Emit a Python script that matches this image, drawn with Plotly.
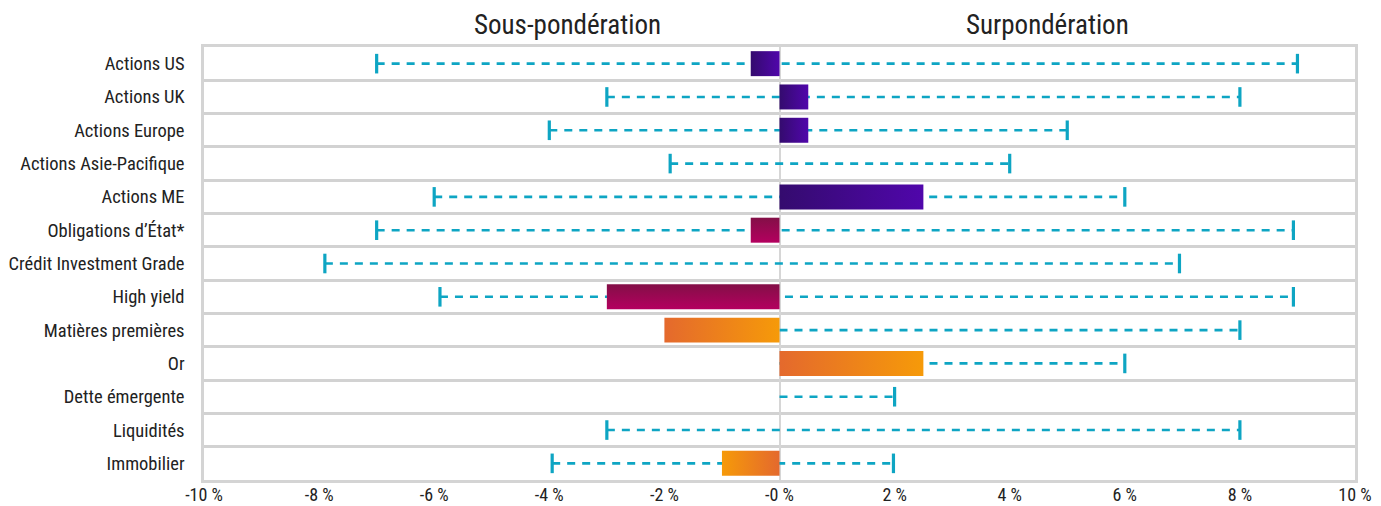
import plotly.graph_objects as go

categories = ["Actions US", "Actions UK", "Actions Europe", "Actions Asie-Pacifique",
              "Actions ME", "Obligations d’État*", "Crédit Investment Grade", "High yield",
              "Matières premières", "Or", "Dette émergente", "Liquidités", "Immobilier"]
positioning = [-0.5, 0.5, 0.5, 0.0, 2.5, -0.5, 0.0, -3.0, -2.0, 2.5, 0.0, 0.0, -1.0]
range_min = [-7.0, -3.0, -4.0, -1.9, -6.0, -7.0, -7.9, -5.9, 0.0, 0.0, 0.0, -3.0, -3.95]
range_max = [9.0, 8.0, 5.0, 4.0, 6.0, 8.93, 6.95, 8.93, 8.0, 6.0, 2.0, 8.0, 1.98]
tick_vals = [-10, -8, -6, -4, -2, 0, 2, 4, 6, 8, 10]
tick_text = ["-10 %", "-8 %", "-6 %", "-4 %", "-2 %", "-0 %", "2 %", "4 %", "6 %", "8 %", "10 %"]

# style: gradient per row (type, [start colour, end colour])
PURPLE = ("horizontal", ["#340b6e", "#5006ab"])
MAGENTA = ("vertical", ["#b4005f", "#830f47"])
ORANGE = ("horizontal", ["#e4692d", "#f69a09"])
ORANGE_R = ("horizontal", ["#f69a09", "#e4692d"])
row_style = [PURPLE, PURPLE, PURPLE, PURPLE, PURPLE, MAGENTA, MAGENTA, MAGENTA,
             ORANGE, ORANGE, ORANGE, ORANGE, ORANGE_R]

FONT = "Roboto Condensed, Liberation Sans Narrow, DejaVu Sans Condensed, Roboto, sans-serif"
TEAL = "#0ea5c3"
HALF = 0.375

fig = go.Figure()

# dashed range lines
lx, ly = [], []
for i, (lo, hi) in enumerate(zip(range_min, range_max)):
    lx += [lo, hi, None]
    ly += [i, i, None]
fig.add_trace(go.Scatter(x=lx, y=ly, mode="lines", hoverinfo="skip", showlegend=False,
                         line=dict(color=TEAL, width=2.6, dash="8px,7px")))

# caps at non-zero ends
cx, cy = [], []
for i, (lo, hi) in enumerate(zip(range_min, range_max)):
    for v in (lo, hi):
        if v != 0:
            cx.append(v)
            cy.append(i)
fig.add_trace(go.Scatter(x=cx, y=cy, mode="markers", hoverinfo="skip", showlegend=False,
                         marker=dict(symbol="line-ns", size=14,
                                     line=dict(color=TEAL, width=3.2))))

# gradient bars
for i, v in enumerate(positioning):
    if v == 0:
        continue
    gtype, cols = row_style[i]
    cs = [[0, cols[0]], [1, cols[1]]]
    fig.add_trace(go.Scatter(
        x=[0, v, v, 0, 0], y=[i - HALF, i - HALF, i + HALF, i + HALF, i - HALF],
        mode="lines", fill="toself", line=dict(width=0), showlegend=False,
        fillgradient=dict(type=gtype, colorscale=cs), name=categories[i],
        hovertemplate=categories[i] + ": %{x}<extra></extra>"))

fig.add_annotation(text="Sous-pondération", xref="paper", yref="paper", x=0.316, y=1.0,
                   xanchor="center", yanchor="middle", yshift=22, showarrow=False,
                   font=dict(family=FONT, size=27, color="#222222"))
fig.add_annotation(text="Surpondération", xref="paper", yref="paper", x=0.733, y=1.0,
                   xanchor="center", yanchor="middle", yshift=22, showarrow=False,
                   font=dict(family=FONT, size=27, color="#222222"))

fig.update_layout(
    width=1373, height=498,
    margin=dict(l=196, r=26, t=39, b=26),
    paper_bgcolor="white", plot_bgcolor="white",
    font=dict(family=FONT, size=18.5, color="#222222"),
    xaxis=dict(range=[-10, 10], tickvals=tick_vals, ticktext=tick_text, showgrid=False,
               zeroline=True, zerolinecolor="#d6d6d6", zerolinewidth=2,
               showline=True, mirror=True, linecolor="#d4d4d4", linewidth=2.5,
               tickfont=dict(size=18),
               ticks="", ticklabelstandoff=-3, automargin=False, fixedrange=True),
    yaxis=dict(range=[12.5, -0.5], tickvals=list(range(len(categories))), ticktext=categories,
               showgrid=False, zeroline=False, ticks="",
               showline=True, mirror=True, linecolor="#d4d4d4", linewidth=2.5,
               minor=dict(tickmode="array", tickvals=[i + 0.5 for i in range(len(categories) - 1)],
                          showgrid=True, gridcolor="#d2d2d2", gridwidth=2.5, ticks=""),
               ticklabelstandoff=13, automargin=False, fixedrange=True),
)

fig.write_html("out.html")
